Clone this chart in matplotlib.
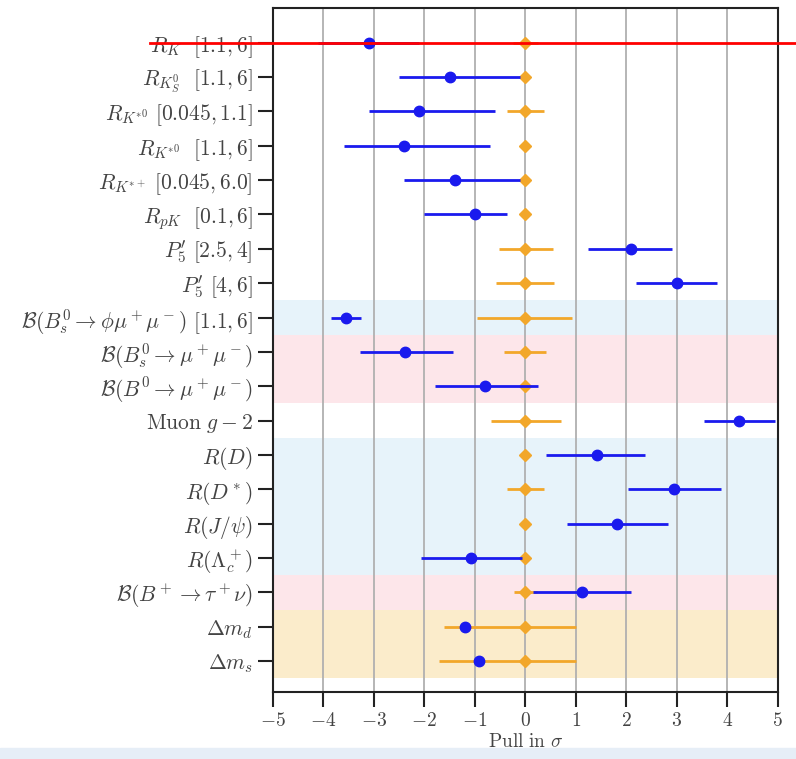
import numpy as np
import matplotlib
matplotlib.use("Agg")
import matplotlib.pyplot as plt
from matplotlib.patches import Rectangle

plt.rcParams["mathtext.fontset"] = "cm"
plt.rcParams["font.family"] = "DejaVu Serif"

# =========================
# DATA
# =========================
labels = [
    r"$R_K\ \ [1.1, 6]$",
    r"$R_{K_S^0}\ \ [1.1, 6]$",
    r"$R_{K^{*0}}\ [0.045, 1.1]$",
    r"$R_{K^{*0}}\ \ [1.1, 6]$",
    r"$R_{K^{*+}}\ [0.045, 6.0]$",
    r"$R_{pK}\ \ [0.1, 6]$",
    r"$P_5'\ [2.5, 4]$",
    r"$P_5'\ [4, 6]$",
    r"$\mathcal{B}(B_s^0\to\phi\mu^+\mu^-)\ [1.1, 6]$",
    r"$\mathcal{B}(B_s^0\to\mu^+\mu^-)$",
    r"$\mathcal{B}(B^0\to\mu^+\mu^-)$",
    r"$\mathrm{Muon}\ g-2$",
    r"$R(D)$",
    r"$R(D^*)$",
    r"$R(J/\psi)$",
    r"$R(\Lambda_c^+)$",
    r"$\mathcal{B}(B^+\to\tau^+\nu)$",
    r"$\Delta m_d$",
    r"$\Delta m_s$",
]

# measured pulls (blue)
meas = [-3.1, -1.5, -2.1, -2.4, -1.4, -1.0, 2.1, 3.0, -3.56, -2.38, -0.8, 4.24,
        1.41, 2.95, 1.82, -1.07, 1.12, -1.2, -0.91]
meas_lo = [1.0, 1.0, 1.0, 1.2, 1.0, 1.0, 0.85, 0.8, 0.3, 0.9, 1.0, 0.7,
           1.0, 0.92, 1.0, 1.0, 0.97, 0.0, 0.0]
meas_hi = [1.0, 1.4, 1.5, 1.7, 1.3, 0.63, 0.8, 0.8, 0.3, 0.95, 1.05, 0.7,
           0.97, 0.92, 1.0, 1.0, 0.97, 0.0, 0.0]

# SM prediction (orange), always at 0
sm = [0.0] * 19
sm_lo = [0.25, 0.05, 0.37, 0.08, 0.05, 0.05, 0.53, 0.59, 0.95, 0.42, 0.05, 0.69,
         0.05, 0.36, 0.05, 0.05, 0.23, 1.62, 1.72]
sm_hi = [0.25, 0.05, 0.36, 0.08, 0.05, 0.05, 0.55, 0.57, 0.93, 0.41, 0.05, 0.71,
         0.05, 0.36, 0.05, 0.05, 0.23, 1.0, 1.0]

# background bands: (first row, last row, colour)
bands = [(8, 8, "#e7f3fa"), (9, 10, "#fde6ea"), (12, 15, "#e7f3fa"),
         (16, 16, "#fde6ea"), (17, 18, "#fbeccb")]

rows = np.arange(len(labels))

# =========================
# PLOT
# =========================
fig = plt.figure(figsize=(7.96, 7.59), dpi=100)
ax = fig.add_axes([0.343, 0.0883, 0.634, 0.9007])

for r0, r1, c in bands:
    ax.axhspan(r0 - 0.5, r1 + 0.5, color=c, lw=0, zorder=0)

ax.grid(axis="x", color="#b0b0b0", lw=1.3, zorder=1)

ax.errorbar(sm, rows, xerr=[sm_lo, sm_hi], fmt="D", color="#f2a72a",
            ms=6, lw=2, capsize=0, zorder=3)
ax.errorbar(meas, rows, xerr=[meas_lo, meas_hi], fmt="o", color="#1a1aee",
            ms=7.5, lw=2, capsize=0, zorder=4)

ax.set_xlim(-5, 5)
ax.set_ylim(18.9, -1.0)
ax.set_xticks(np.arange(-5, 6))
ax.set_xticklabels([r"$%d$" % v if v >= 0 else r"$-%d$" % -v for v in range(-5, 6)])
ax.set_yticks(rows)
ax.set_yticklabels(labels)
ax.tick_params(axis="both", length=11, width=1.5, labelsize=14, colors="#222222",
               labelcolor="#444444")
ax.tick_params(axis="y", labelsize=15.5)
ax.set_xlabel(r"$\mathrm{Pull\ in}\ \sigma$", fontsize=14, color="#444444", labelpad=2)

for s in ax.spines.values():
    s.set_linewidth(1.5)
    s.set_color("#222222")

# red highlight line through the first row
ax.axhline(0, xmin=-0.244, xmax=1.04, color="red", lw=2, clip_on=False, zorder=6)

# pale strip at the bottom of the screenshot
fig.patches.append(Rectangle((0, 0), 1, 0.014, transform=fig.transFigure,
                             color="#e6eef7", zorder=0))

fig.savefig("out.png", dpi=100)
